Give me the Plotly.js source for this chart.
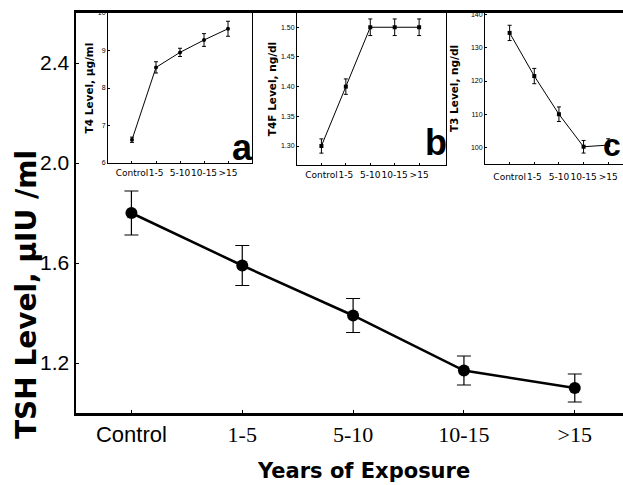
<!DOCTYPE html>
<html>
<head>
<meta charset="utf-8">
<script src="https://cdn.plot.ly/plotly-3.0.1.min.js"></script>
<style>html,body{margin:0;padding:0;background:#fff}#chart{width:623px;height:485px}</style>
</head>
<body>
<div id="chart"></div>
<script>
// Categories (years of exposure)
const categories = ["Control", "1-5", "5-10", "10-15", ">15"];
const mainTickText = ["Control",
  "<span style='font-family:Liberation Serif'>1-5</span>",
  "<span style='font-family:Liberation Serif'>5-10</span>",
  "<span style='font-family:Liberation Serif'>10-15</span>",
  "<span style='font-family:Liberation Serif'>&gt;15</span>"];
// Main: TSH level (µIU/ml)
const tsh    = [1.80, 1.59, 1.39, 1.17, 1.10];
const tshErr = [0.088, 0.08, 0.068, 0.058, 0.056];
// Inset a: T4 level (µg/ml)
const t4     = [6.62, 8.55, 8.95, 9.28, 9.58];
const t4Err  = [0.07, 0.15, 0.11, 0.17, 0.2];
// Inset b: T4F level (ng/dl)
const t4f    = [1.30, 1.40, 1.50, 1.50, 1.50];
const t4fErr = [0.012, 0.013, 0.014, 0.014, 0.014];
// Inset c: T3 level (ng/dl)
const t3     = [134.5, 121.5, 110.0, 100.2, 100.7];
const t3Err  = [2.3, 2.3, 2.2, 1.9, 1.9];
const mainYTicks = [1.2, 1.6, 2.0, 2.4];

const idx = categories.map((c, i) => i);

function insetTrace(y, err, xa, ya, sym) {
  return {
    x: idx, y: y, xaxis: xa, yaxis: ya, type: 'scatter', mode: 'lines+markers',
    line: {color: '#000', width: 1},
    marker: {color: '#000', size: 4, symbol: sym},
    error_y: {type: 'data', array: err, visible: true, color: '#000', thickness: 1, width: 2},
    showlegend: false, hoverinfo: 'skip'
  };
}

const data = [
  {
    x: idx, y: tsh, type: 'scatter', mode: 'lines+markers',
    line: {color: '#000', width: 2.5},
    marker: {color: '#000', size: 12},
    error_y: {type: 'data', array: tshErr, visible: true, color: '#000', thickness: 1.2, width: 7},
    showlegend: false, hoverinfo: 'skip'
  },
  insetTrace(t4, t4Err, 'x2', 'y2', 'circle'),
  insetTrace(t4f, t4fErr, 'x3', 'y3', 'square'),
  insetTrace(t3, t3Err, 'x4', 'y4', 'square')
];

const insetTickFont = {family: 'Liberation Sans Narrow, Liberation Sans, Arial', size: 7, color: '#000'};
const insetXFont = {family: 'DejaVu Sans, Verdana', size: 9, color: '#000'};
const insetTitleFont = {family: 'DejaVu Sans, Verdana', size: 10.5, color: '#000', weight: 'bold'};

function insetX(dom, range, anchor, standoff) {
  return {
    domain: dom, range: range, anchor: anchor,
    tickmode: 'array', tickvals: idx, ticktext: categories, tickangle: 0,
    ticks: 'inside', ticklen: 2, tickwidth: 1, tickcolor: '#000',
    showline: true, linecolor: '#000', linewidth: 1, mirror: true,
    showgrid: false, zeroline: false, tickfont: insetXFont, ticklabelstandoff: standoff
  };
}
function insetY(dom, range, anchor, title, dtick, fmt, mirror, standoff) {
  return {
    domain: dom, range: range, anchor: anchor, dtick: dtick, tickformat: fmt,
    ticks: 'inside', ticklen: 2, tickwidth: 1, tickcolor: '#000',
    showline: true, linecolor: '#000', linewidth: 1, mirror: mirror,
    showgrid: false, zeroline: false, tickfont: insetTickFont,
    title: {text: title, font: insetTitleFont, standoff: standoff}
  };
}

const layout = {
  width: 623, height: 485,
  margin: {l: 76, r: 0, t: 13, b: 72, pad: 0},
  paper_bgcolor: '#fff', plot_bgcolor: '#fff',
  xaxis: {
    range: [-0.5, 4.435], tickmode: 'array', tickvals: idx, ticktext: mainTickText,
    ticks: 'inside', ticklen: 3, tickwidth: 1, tickcolor: '#000',
    showline: true, linecolor: '#000', linewidth: 3, mirror: true,
    showgrid: false, zeroline: false,
    tickfont: {family: 'Liberation Sans, Arial', size: 22, color: '#000'},
    title: {text: '&nbsp;&nbsp;&nbsp;&nbsp;Years of Exposure', font: {family: 'DejaVu Sans, Verdana', size: 21, color: '#000', weight: 'bold'}, standoff: 17}
  },
  yaxis: {
    range: [1.0, 2.6], tickmode: 'array', tickvals: mainYTicks, ticktext: mainYTicks.map(v => v.toFixed(1)),
    ticks: 'inside', ticklen: 3, tickwidth: 1, tickcolor: '#000',
    showline: true, linecolor: '#000', linewidth: 2.5, mirror: false,
    showgrid: false, zeroline: false,
    tickfont: {family: 'Liberation Sans, Arial', size: 21, color: '#000'}
  },
  xaxis2: insetX([0.0585, 0.3218], [-1, 5], 'y2', 1),
  yaxis2: insetY([0.625, 1], [6, 10], 'x2', 'T4 Level, μg/ml', 1, '', true, 2),
  xaxis3: insetX([0.404, 0.6764], [-1, 5.1], 'y3', 1),
  yaxis3: insetY([0.62, 1], [1.268, 1.524], 'x3', 'T4F Level, ng/dl', 0.05, '.2f', true, 2),
  xaxis4: insetX([0.7477, 1], [-1, 4.6], 'y4', 4),
  yaxis4: insetY([0.6225, 1], [95, 140.5], 'x4', 'T3 Level, ng/dl', 10, '', false, 10),
  annotations: [
    {text: 'TSH Level, μIU /ml', xref: 'paper', yref: 'paper', x: -0.0914, y: 0.295,
     xanchor: 'center', yanchor: 'middle', textangle: -90, showarrow: false,
     font: {family: 'DejaVu Sans, Verdana', size: 28, color: '#000', weight: 'bold'}},
    {text: 'a', xref: 'paper', yref: 'paper', x: 0.3035, y: 0.665, xanchor: 'center', yanchor: 'middle',
     showarrow: false, font: {family: 'Liberation Sans, Arial', size: 36, color: '#000', weight: 'bold'}},
    {text: 'b', xref: 'paper', yref: 'paper', x: 0.658, y: 0.675, xanchor: 'center', yanchor: 'middle',
     showarrow: false, font: {family: 'Liberation Sans, Arial', size: 36, color: '#000', weight: 'bold'}},
    {text: 'c', xref: 'paper', yref: 'paper', x: 1.0, y: 0.67, xanchor: 'right', yanchor: 'middle',
     showarrow: false, font: {family: 'Liberation Sans, Arial', size: 32, color: '#000', weight: 'bold'}}
  ]
};

Plotly.newPlot('chart', data, layout, {staticPlot: true, displayModeBar: false});
</script>
</body>
</html>
